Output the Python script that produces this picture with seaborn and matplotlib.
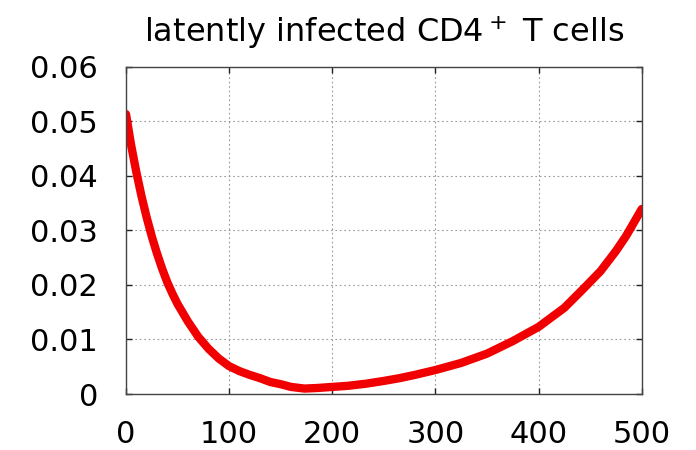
import numpy as np
import pandas as pd
import matplotlib
matplotlib.use("Agg")
import matplotlib.pyplot as plt
import seaborn as sns

# values
days = [0, 5, 10, 15, 20, 25, 30, 35, 40, 45, 50, 60, 70, 80, 90, 100, 110,
        120, 130, 140, 150, 160, 173, 185, 200, 215, 233, 250, 265, 280, 300,
        325, 350, 375, 400, 425, 443, 460, 475, 485, 500]
latent = [0.0513, 0.0456, 0.0407, 0.0363, 0.0324, 0.0289, 0.0258, 0.0230,
          0.0205, 0.0184, 0.0165, 0.0133, 0.0105, 0.0083, 0.0065, 0.0051,
          0.0042, 0.0035, 0.0029, 0.0022, 0.0018, 0.0013, 0.0010, 0.0011,
          0.0013, 0.0015, 0.0019, 0.0024, 0.0029, 0.0035, 0.0044, 0.0057,
          0.0074, 0.0097, 0.0123, 0.0158, 0.0192, 0.0225, 0.0262, 0.0290,
          0.0339]

x_ticks = [0, 100, 200, 300, 400, 500]
y_ticks = [0, 0.01, 0.02, 0.03, 0.04, 0.05, 0.06]
y_labels = ["0", "0.01", "0.02", "0.03", "0.04", "0.05", "0.06"]

df = pd.DataFrame({"t": days, "L": latent})

sns.set_style("ticks")
plt.rcParams["font.family"] = ["DejaVu Sans"]

fig = plt.figure(figsize=(6.96, 4.5), dpi=100)
ax = fig.add_axes([0.181, 0.1244, 0.741, 0.7276])

sns.lineplot(data=df, x="t", y="L", ax=ax, color="#f00000", linewidth=6)
for ln in ax.lines:
    ln.set_solid_joinstyle("round")

ax.set_xlim(0, 500)
ax.set_ylim(0, 0.06)
ax.set_xticks(x_ticks)
ax.set_yticks(y_ticks)
ax.set_yticklabels(y_labels)
ax.set_xlabel("")
ax.set_ylabel("")

ax.grid(True, color="#999999", linestyle=(0, (1.5, 2.5)), linewidth=0.8)
ax.tick_params(direction="in", length=4, width=1, top=True, right=True,
               labelsize=22, pad=19, colors="#222222", labelcolor="black")
ax.tick_params(axis="y", pad=20)
for s in ax.spines.values():
    s.set_visible(True)
    s.set_color("#444444")
    s.set_linewidth(1.0)

ax.set_title("latently infected CD4$^+$ T cells", fontsize=23, pad=18,
             color="black")

fig.savefig("out.png", dpi=100)
